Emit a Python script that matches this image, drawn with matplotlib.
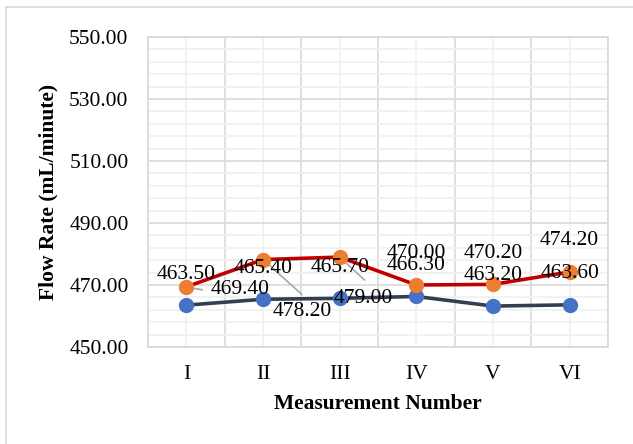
# Flow rate per measurement, two runs
import matplotlib
matplotlib.use("Agg")
import matplotlib.pyplot as plt
import numpy as np
from matplotlib.lines import Line2D
from matplotlib.ticker import FixedLocator, FormatStrFormatter

categories = ["I", "II", "III", "IV", "V", "VI"]
series_blue = [463.5, 465.4, 465.7, 466.3, 463.2, 463.6]
series_orange = [469.4, 478.2, 479.0, 470.0, 470.2, 474.2]
y_ticks = [450, 470, 490, 510, 530, 550]

plt.rcParams["font.family"] = ["Liberation Serif", "DejaVu Serif"]

fig = plt.figure(figsize=(6.33, 4.44), dpi=100)
ax = fig.add_axes([148 / 633, 97 / 444, 460 / 633, 310 / 444])

x = list(range(len(categories)))
ax.set_xlim(-0.5, len(categories) - 0.5)
ax.set_ylim(y_ticks[0], y_ticks[-1])

# grid
ax.yaxis.set_major_locator(FixedLocator(y_ticks))
ax.yaxis.set_minor_locator(FixedLocator(np.arange(y_ticks[0], y_ticks[-1], 4)))
ax.yaxis.set_major_formatter(FormatStrFormatter("%.2f"))
ax.xaxis.set_major_locator(FixedLocator(x))
ax.xaxis.set_minor_locator(FixedLocator([i - 0.5 for i in x] + [len(x) - 0.5]))
ax.set_xticks(x)
ax.set_xticklabels(categories)
ax.grid(which="major", axis="y", color="#D9D9D9", lw=1.2)
ax.grid(which="minor", axis="y", color="#F0F0F0", lw=1.2)
ax.grid(which="minor", axis="x", color="#D9D9D9", lw=1.2)
ax.grid(which="major", axis="x", color="#F0F0F0", lw=1.2)
ax.set_axisbelow(True)
for s in ax.spines.values():
    s.set_color("#D9D9D9")
    s.set_linewidth(1.2)
ax.tick_params(which="both", length=0, labelsize=15.5)
ax.tick_params(axis="y", pad=14)
ax.tick_params(axis="x", pad=13)

ax.plot(x, series_blue, color="#333F50", lw=2.6, marker="o", ms=10,
        mfc="#4472C4", mec="#4472C4", zorder=3)
ax.plot(x, series_orange, color="#C00000", lw=2.6, marker="o", ms=10,
        mfc="#ED7D31", mec="#ED7D31", zorder=3)

# data labels (offsets in pixels, Excel style with a few dragged ones)
label_fs = 15.5
for xi, v in zip(x, series_blue):
    ax.annotate(f"{v:.2f}", (xi, v), xytext=(0, 31), textcoords="offset pixels",
                ha="center", va="center", fontsize=label_fs, zorder=5)

orange_offsets = [(54, -3), (39, -52), (24, -41), (0, 32), (0, 31), (0, 31)]
orange_leaders = [(16, -3), (39, -35), (25, -23), None, None, None]
for xi, v, off, lead in zip(x, series_orange, orange_offsets, orange_leaders):
    ax.annotate(f"{v:.2f}", (xi, v), xytext=off, textcoords="offset pixels",
                ha="center", va="center", fontsize=label_fs, zorder=5)
    if lead is not None:
        ax.annotate("", (xi, v), xytext=lead, textcoords="offset pixels",
                    arrowprops=dict(arrowstyle="-", color="#A6A6A6", lw=1.2,
                                    shrinkA=0, shrinkB=0), zorder=2)

ax.set_xlabel("Measurement Number", fontsize=15.5, fontweight="bold")
ax.set_ylabel("Flow Rate (mL/minute)", fontsize=15.5, fontweight="bold")
ax.xaxis.set_label_coords(0.5, -57 / 310, transform=ax.transAxes)
ax.yaxis.set_label_coords(-100 / 460, 0.5, transform=ax.transAxes)
ax.xaxis.label.set_va("center")
ax.yaxis.label.set_va("center")

# chart frame (only left and top edges visible in the crop)
fig.add_artist(Line2D([6 / 633, 6 / 633], [0, 1 - 7 / 444], color="#D9D9D9", lw=1.2))
fig.add_artist(Line2D([6 / 633, 1], [1 - 7 / 444, 1 - 7 / 444], color="#D9D9D9", lw=1.2))

fig.savefig("out.png", dpi=100)
